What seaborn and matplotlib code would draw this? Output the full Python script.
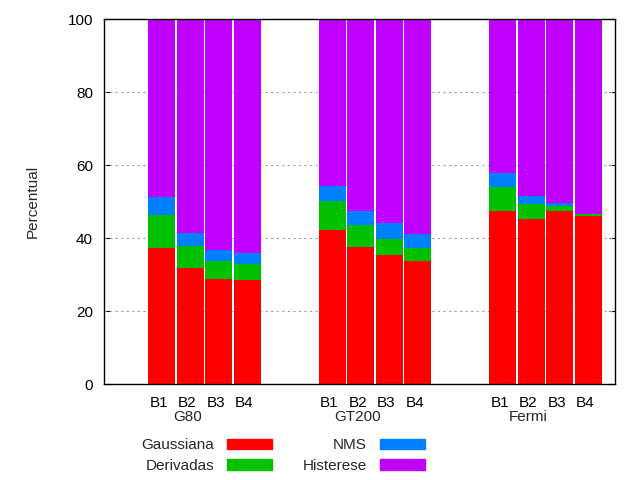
import seaborn as sns
import matplotlib.pyplot as plt
import matplotlib.patches as mpatches
import pandas as pd
import numpy as np

grupos = ["G80", "GT200", "Fermi"]
blocos = ["B1", "B2", "B3", "B4"]

# percentuais por etapa (G80 B1..B4, GT200 B1..B4, Fermi B1..B4)
gaussiana = [37.2, 31.9, 28.9, 28.6, 42.3, 37.6, 35.4, 33.8, 47.5, 45.2, 47.5, 46.2]
derivadas = [9.2, 6.0, 4.9, 4.4, 8.0, 5.9, 4.4, 3.6, 6.4, 4.1, 1.2, 0.3]
nms = [4.8, 3.4, 3.0, 3.0, 3.9, 4.0, 4.4, 3.8, 3.9, 2.2, 0.9, 0.1]

cores = {"Gaussiana": "#ff0000", "Derivadas": "#00c000",
         "NMS": "#0080ff", "Histerese": "#c000ff"}

pos = [g * 6 + b for g in range(len(grupos)) for b in range(len(blocos))]
df = pd.DataFrame({"pos": pos, "Gaussiana": gaussiana,
                   "Derivadas": derivadas, "NMS": nms})
df["Histerese"] = 100 - df["Gaussiana"] - df["Derivadas"] - df["NMS"]

# acumulados para empilhar
camadas = ["Gaussiana", "Derivadas", "NMS", "Histerese"]
acum = df[camadas].cumsum(axis=1)

sns.set_theme(style="white")
plt.rcParams["font.family"] = ["Liberation Sans", "DejaVu Sans"]
fs = 11

fig = plt.figure(figsize=(6.4, 4.8), dpi=100)
ax = fig.add_axes([104 / 640, 1 - 384 / 480, 511 / 640, 364.7 / 480])

for nome in reversed(camadas):
    sns.barplot(x=df["pos"], y=acum[nome], native_scale=True, width=0.95,
                color=cores[nome], saturation=1, errorbar=None, ax=ax,
                linewidth=0, zorder=2)

ax.set_xlim(-2.04, 15.95)
ax.set_ylim(0, 100)
ax.set_yticks([0, 20, 40, 60, 80, 100])
for y in [20, 40, 60, 80]:
    ax.axhline(y, color="#a0a0a0", linestyle=(0, (2, 3)), linewidth=0.8, zorder=1)

ax.set_xticks(np.array(pos) - 0.1)
ax.set_xticklabels(blocos * len(grupos))
ax.tick_params(axis="x", length=0, pad=8.5, labelsize=fs, colors="black")
ax.tick_params(axis="y", direction="in", length=4.5, width=0.8, pad=8,
               labelsize=fs, colors="black", right=True, left=True)
for s in ax.spines.values():
    s.set_color("black")
    s.set_linewidth(1.0)

for i, g in enumerate(grupos):
    ax.text(i * 6 + 0.9, -0.071, g, transform=ax.get_xaxis_transform(),
            ha="center", va="top", fontsize=fs)

ax.set_xlabel("")
ax.set_ylabel("Percentual", fontsize=fs, labelpad=20)

handles = [mpatches.Patch(color=cores[n], label=n) for n in camadas]
fig.legend(handles=handles, loc="upper left", bbox_to_anchor=(0.221, 0.087),
           ncol=2, frameon=False, markerfirst=False, fontsize=fs,
           handlelength=2.94, handleheight=0.65, handletextpad=0.85,
           columnspacing=2.0, labelspacing=0.44, borderpad=0, borderaxespad=0)

fig.savefig("out.png", dpi=100)
